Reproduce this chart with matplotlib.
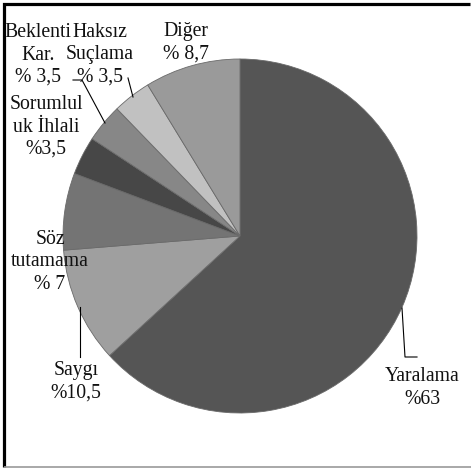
import matplotlib
matplotlib.use("Agg")
import matplotlib.pyplot as plt

categories = ["Yaralama", "Saygı", "Söz tutamama", "Sorumluluk İhlali",
              "Beklenti Kar.", "Haksız Suçlama", "Diğer"]
values = [63, 10.5, 7, 3.5, 3.5, 3.5, 8.7]
label_texts = ["Yaralama\n%63", "Saygı\n%10,5", "Söz\ntutamama\n% 7",
               "Sorumlul\nuk İhlali\n%3,5", "Beklenti\nKar.\n% 3,5",
               "Haksız\nSuçlama\n% 3,5", "Diğer\n% 8,7"]
colors = ["#555555", "#9f9f9f", "#747474", "#474747", "#878787", "#c1c1c1", "#9a9a9a"]

W, H = 471, 468
CX, CY, R = 240, 236, 177

def px(x, y):
    return ((x - CX) / R, (CY - y) / R)

plt.rcParams['font.family'] = ['Liberation Serif', 'DejaVu Serif']
fig = plt.figure(figsize=(W / 100, H / 100), dpi=100)
ax = fig.add_axes([0, 0, 1, 1])
ax.pie(values, colors=colors, startangle=90, counterclock=False,
       wedgeprops=dict(edgecolor="#6a6a6a", linewidth=0.6))
ax.set_aspect('auto')
ax.set_xlim(-CX / R, (W - CX) / R)
ax.set_ylim(-(H - CY) / R, CY / R)
ax.axis('off')

fs = 14.2
label_pos = [(422, 388), (76, 382), (50, 262), (46, 127), (38, 55), (100, 55), (186, 43)]
for txt, (x, y) in zip(label_texts, label_pos):
    ax.text(*px(x, y), txt, ha='center', va='center', fontsize=fs,
            linespacing=1.25, color='#111111')

leaders = [
    [(402, 308), (405, 357), (417, 357)],
    [(80, 307), (80, 357)],
    [(105, 123), (82, 80), (73, 80)],
    [(133, 97), (128, 78)],
]
for pts in leaders:
    xs, ys = zip(*[px(x, y) for x, y in pts])
    ax.plot(xs, ys, color='black', linewidth=0.8)

# frame
frame = [
    ([(4, 467), (4, 4), (470, 4)], 'black', 2.3),
    ([(4, 466.5), (471, 466.5)], '#999999', 1.2),
]
for pts, c, lw in frame:
    xs, ys = zip(*[px(x, y) for x, y in pts])
    ax.plot(xs, ys, color=c, linewidth=lw, clip_on=False, solid_capstyle='butt',
            solid_joinstyle='miter')

fig.savefig("out.png", dpi=100, facecolor='white')
